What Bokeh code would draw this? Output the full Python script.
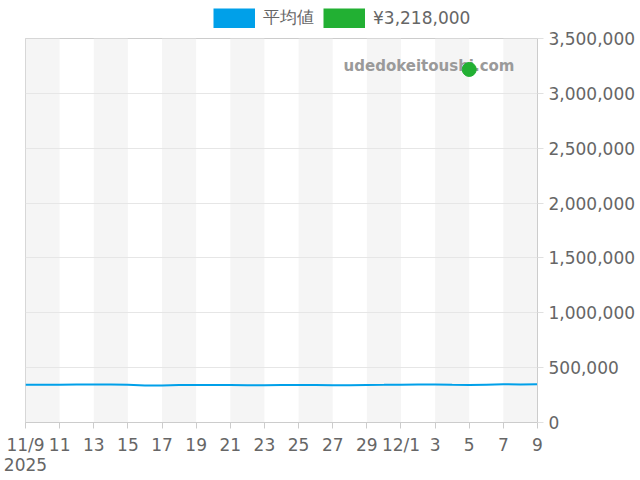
import pandas as pd
from bokeh.plotting import figure
from bokeh.layouts import column
from bokeh.models import (Legend, LegendItem, Label, FixedTicker,
                          NumeralTickFormatter, Range1d, LinearAxis)
from bokeh.embed import file_html
from bokeh.resources import INLINE

dates = ["2025-11-09", "2025-11-10", "2025-11-11", "2025-11-12", "2025-11-13",
         "2025-11-14", "2025-11-15", "2025-11-16", "2025-11-17", "2025-11-18",
         "2025-11-19", "2025-11-20", "2025-11-21", "2025-11-22", "2025-11-23",
         "2025-11-24", "2025-11-25", "2025-11-26", "2025-11-27", "2025-11-28",
         "2025-11-29", "2025-11-30", "2025-12-01", "2025-12-02", "2025-12-03",
         "2025-12-04", "2025-12-05", "2025-12-06", "2025-12-07", "2025-12-08",
         "2025-12-09"]
avg_values = [343000, 344000, 344000, 347000, 346000, 346000, 344000, 338000,
              337000, 342000, 342000, 342000, 341000, 340000, 339000, 341000,
              342000, 342000, 340000, 339000, 342000, 343000, 345000, 347000,
              346000, 343000, 341000, 345000, 348000, 347000, 348000]
avg_label = "平均値"
highlight_date = "2025-12-05"
highlight_value = 3218000
highlight_label = "¥3,218,000"
tick_labels = ["11/9", "11", "13", "15", "17", "19", "21", "23", "25", "27",
               "29", "12/1", "3", "5", "7", "9"]
year_label = "2025"
y_ticks = [0, 500000, 1000000, 1500000, 2000000, 2500000, 3000000, 3500000]
watermark = "udedokeitoushi.com"

BLUE = "#00a0e9"
GREEN = "#22b033"
TEXT = "#666666"
FONT = "DejaVu Sans"
DAY_MS = 86400000.0

def ms(d):
    return float(pd.Timestamp(d).value / 1e6)

x_ms = [ms(d) for d in dates]
tick_ms = [ms(d) for d in dates[::2]]
band_left = [ms(d) for d in dates[::4]]
band_right = [b + 2 * DAY_MS for b in band_left]

# ---- legend strip (separate small figure above the chart) ----
lf = figure(width=640, height=30, x_axis_location=None, y_axis_location=None,
            x_range=Range1d(x_ms[0], x_ms[-1]),
            y_range=Range1d(y_ticks[0], y_ticks[-1]),
            output_backend="svg", toolbar_location=None, min_border=0)
lf.outline_line_color = None
lf.grid.visible = False
leg_avg = lf.line(x_ms, avg_values, line_color=BLUE, line_width=20,
                  line_cap="butt", visible=False)
leg_hi = lf.line([ms(highlight_date)], [highlight_value], line_color=GREEN,
                 line_width=20, line_cap="butt", visible=False)
legend = Legend(items=[LegendItem(label=avg_label, renderers=[leg_avg]),
                       LegendItem(label=highlight_label, renderers=[leg_hi])],
                orientation="horizontal", location=(188, 1),
                glyph_width=42, glyph_height=20, label_standoff=8, spacing=9,
                padding=0, margin=0, border_line_color=None,
                background_fill_alpha=0, label_text_font_size="17px",
                label_text_color=TEXT, label_text_font=FONT, label_height=20)
lf.add_layout(legend)

# ---- main chart ----
p = figure(width=640, height=450, y_axis_location="right",
           x_range=Range1d(x_ms[0], x_ms[-1]),
           y_range=Range1d(y_ticks[0], y_ticks[-1]),
           output_backend="svg", toolbar_location=None,
           min_border_left=25, min_border_right=103, min_border_top=8,
           min_border_bottom=58)
p.outline_line_color = "#cccccc"
p.xgrid.grid_line_color = None
p.ygrid.grid_line_color = "#e6e6e6"
p.ygrid.ticker = FixedTicker(ticks=y_ticks)

# alternating shaded bands (below the grid)
p.quad(left=band_left, right=band_right,
       bottom=[y_ticks[0]] * len(band_left), top=[y_ticks[-1]] * len(band_left),
       fill_color="#f5f5f5", line_color=None, level="image")

wm = Label(x=489, y=357, x_units="screen", y_units="screen", text=watermark,
           text_font=FONT, text_font_style="bold", text_font_size="15px",
           text_color="#9a9a9a", text_align="right", text_baseline="middle",
           level="underlay")
p.add_layout(wm)

p.line(x_ms, avg_values, line_color=BLUE, line_width=2)
p.scatter([ms(highlight_date)], [highlight_value], size=14,
          fill_color=GREEN, line_color=GREEN)

xa = p.xaxis[0]
xa.ticker = FixedTicker(ticks=tick_ms)
xa.major_label_overrides = {t: lab for t, lab in zip(tick_ms, tick_labels)}
xa.axis_line_color = "#cccccc"
xa.major_tick_line_color = "#cccccc"
xa.major_tick_out = 6
xa.major_tick_in = 0
xa.minor_tick_line_color = None
xa.major_label_text_font = FONT
xa.major_label_text_font_size = "17px"
xa.major_label_text_color = TEXT
xa.major_label_standoff = 6

xa2 = LinearAxis(ticker=FixedTicker(ticks=[tick_ms[0]]),
                 major_label_overrides={tick_ms[0]: year_label},
                 axis_line_color=None, major_tick_line_color=None,
                 minor_tick_line_color=None, major_tick_out=0, major_tick_in=0,
                 major_label_standoff=0, major_label_text_font=FONT,
                 major_label_text_font_size="17px", major_label_text_color=TEXT)
p.add_layout(xa2, "below")

ya = p.yaxis[0]
ya.ticker = FixedTicker(ticks=y_ticks)
ya.formatter = NumeralTickFormatter(format="0,0")
ya.axis_line_color = "#cccccc"
ya.major_tick_line_color = "#e0e0e0"
ya.major_tick_out = 6
ya.major_tick_in = 0
ya.minor_tick_line_color = None
ya.major_label_text_font = FONT
ya.major_label_text_font_size = "17px"
ya.major_label_text_color = TEXT
ya.major_label_standoff = 5

open("out.html", "w").write(file_html(column(lf, p), INLINE))
